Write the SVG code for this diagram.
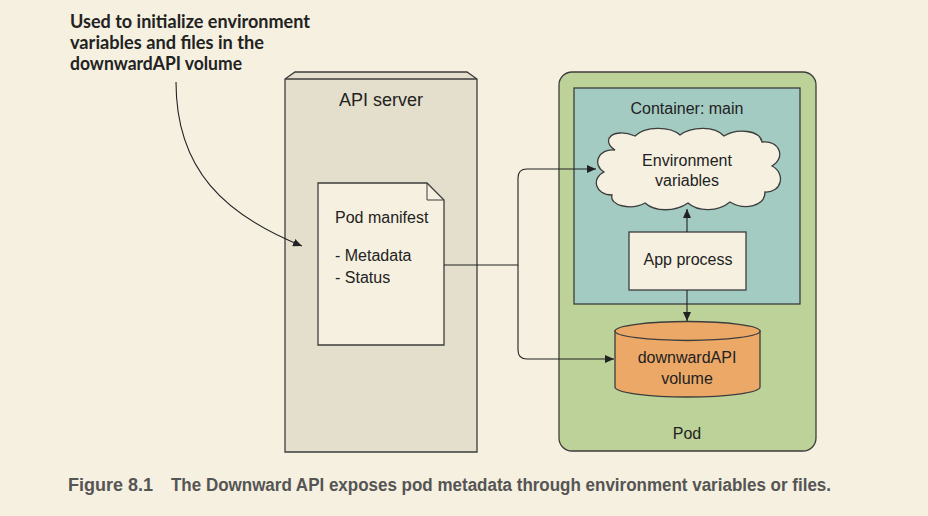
<svg xmlns="http://www.w3.org/2000/svg" width="928" height="516" viewBox="0 0 928 516">
<style>
.lbl{font-family:"Liberation Sans",Arial,sans-serif;font-size:16px;fill:#222}
.shape{stroke:#3d3d3d;stroke-width:1.3}
.conn{fill:none;stroke:#222;stroke-width:1.1}
.note{font-family:Lato,"Open Sans",sans-serif;font-weight:bold;font-size:18.5px;fill:#222}
.cap{font-family:"Liberation Sans",Arial,sans-serif;font-weight:bold;font-size:17.5px;fill:#555}
</style>
<defs>
<marker id="arr" markerWidth="10" markerHeight="8" refX="9" refY="4" orient="auto" markerUnits="userSpaceOnUse">
<path d="M0,0 L9,4 L0,8 Z" fill="#222"/>
</marker>
</defs>
<rect width="928" height="516" fill="#f5f0df"/>

<g id="note">
<text class="note" x="70" y="28" textLength="240" lengthAdjust="spacingAndGlyphs">Used to initialize environment</text>
<text class="note" x="70" y="49" textLength="194" lengthAdjust="spacingAndGlyphs">variables and files in the</text>
<text class="note" x="70" y="70" textLength="172" lengthAdjust="spacingAndGlyphs">downwardAPI volume</text>
</g>

<g id="api-server">
<path class="shape" d="M285,79 L295,72 L467,72 L477,79 L477,452 L285,452 Z" fill="#e4dfcc"/>
<path class="shape" d="M285,79 L477,79" fill="none"/>
<text class="lbl" x="381" y="106" text-anchor="middle" style="font-size:18px">API server</text>
</g>

<g id="pod-manifest">
<path class="shape" d="M318,183 L427,183 L444,200 L444,345 L318,345 Z" fill="#f5f0df"/>
<path class="shape" d="M427,183 L427,200 L444,200" fill="none" style="stroke-width:1"/>
<text class="lbl" x="335" y="223">Pod manifest</text>
<text class="lbl" x="335" y="261">- Metadata</text>
<text class="lbl" x="335" y="283">- Status</text>
</g>

<g id="pod">
<rect class="shape" x="559" y="72" width="257" height="379" rx="13" ry="13" fill="#bdd298"/>
<text class="lbl" x="687" y="439" text-anchor="middle">Pod</text>
</g>

<g id="container">
<rect class="shape" x="574" y="88" width="226" height="216" fill="#a3cbc2"/>
<text class="lbl" x="687" y="114" text-anchor="middle">Container: main</text>
</g>

<g id="env-vars">
<path class="shape" fill="#f5f0df" d="M615,150 C600,140 613,127 635,136 C645,126 670,126 680,135 C692,126 715,126 724,136 C737,128 760,130 762,142 C780,140 786,158 772,166 C786,173 782,193 765,192 C765,206 745,211 730,202 C718,212 698,212 688,203 C675,212 655,212 645,203 C630,211 609,205 612,195 C595,195 591,178 604,172 C592,165 598,148 615,150 Z"/>
<text class="lbl" x="687" y="166" text-anchor="middle">Environment</text>
<text class="lbl" x="687" y="186" text-anchor="middle">variables</text>
</g>

<g id="app-process">
<rect class="shape" x="629" y="232" width="117" height="58" fill="#f5f0df"/>
<text class="lbl" x="688" y="265" text-anchor="middle">App process</text>
</g>

<g id="downward-volume">
<path class="shape" d="M615,331 L615,387 A72.5,10 0 0 0 760,387 L760,331 Z" fill="#eca867"/>
<ellipse class="shape" cx="687.5" cy="331" rx="72.5" ry="9.5" fill="#eca867"/>
<text class="lbl" x="687" y="363" text-anchor="middle">downwardAPI</text>
<text class="lbl" x="687" y="384" text-anchor="middle">volume</text>
</g>

<g id="connectors">
<path class="conn" d="M176,82 C176,170 225,215 302,246" marker-end="url(#arr)"/>
<path class="conn" d="M444,265 L518,265 L518,178 Q518,169 527,169 L596,169" marker-end="url(#arr)"/>
<path class="conn" d="M518,265 L518,350 Q518,359 527,359 L614,359" marker-end="url(#arr)"/>
<path class="conn" d="M687,232 L687,209" marker-end="url(#arr)"/>
<path class="conn" d="M687,290 L687,321" marker-end="url(#arr)"/>
</g>

<g id="caption">
<text class="cap" x="68" y="491" textLength="85" lengthAdjust="spacingAndGlyphs">Figure 8.1</text>
<text class="cap" x="171" y="491" textLength="660" lengthAdjust="spacingAndGlyphs">The Downward API exposes pod metadata through environment variables or files.</text>
</g>
</svg>
